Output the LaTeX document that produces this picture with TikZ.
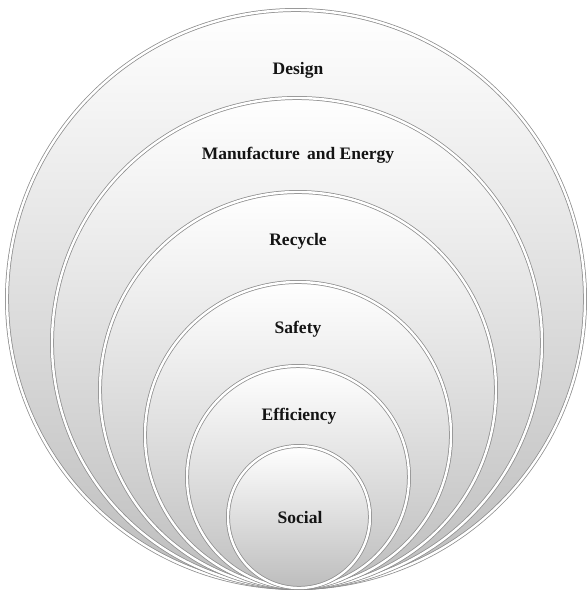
\documentclass[tikz,border=0pt]{standalone}
\usepackage{fontspec}
\setmainfont{Liberation Serif}
\begin{document}
\begin{tikzpicture}[x=1pt,y=-1pt,
  ring/.style={circle, inner sep=0pt, outer sep=0pt,
    top color=white, middle color=black!6, bottom color=black!26,
    draw=black!45, line width=0.75pt, double=white, double distance=2.4pt},
  tag/.style={font=\bfseries\fontsize{17.5}{20}\selectfont, text=black!92}]
  \useasboundingbox (0,0) rectangle (587,591);
  % nested rings, all touching at the bottom
  \node[ring, minimum size=578pt] (design)  at (296,299) {};
  \node[ring, minimum size=490pt] (manuf)   at (297,343) {};
  \node[ring, minimum size=396pt] (recycle) at (298,390) {};
  \node[ring, minimum size=306pt] (safety)  at (298,435) {};
  \node[ring, minimum size=222pt] (effic)   at (298,477) {};
  \node[ring, minimum size=142pt] (social)  at (299,517) {};
  % ring captions
  \node[tag] (tdesign)  at (298,70)  {Design};
  \node[tag] (tmanuf)   at (298,155) {Manufacture\, and Energy};
  \node[tag] (trecycle) at (298,241) {Recycle};
  \node[tag] (tsafety)  at (298,329) {Safety};
  \node[tag] (teffic)   at (299,416) {Efficiency};
  \node[tag] (tsocial)  at (300,518) {Social};
\end{tikzpicture}
\end{document}
